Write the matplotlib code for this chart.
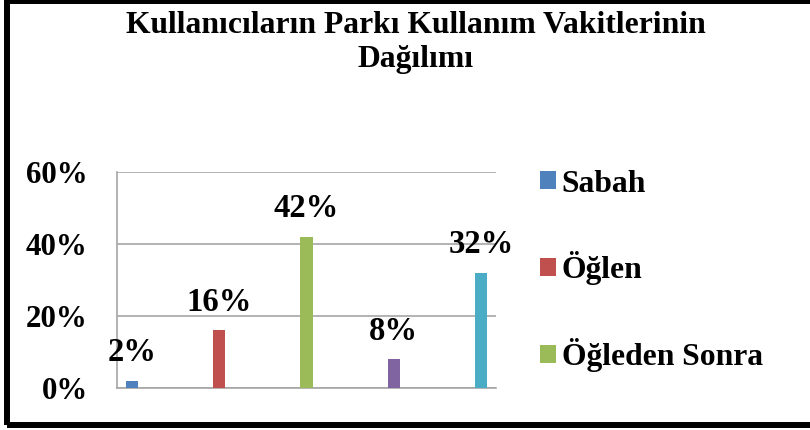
import matplotlib
matplotlib.use("Agg")
import matplotlib.pyplot as plt
from matplotlib.patches import Rectangle
from matplotlib.ticker import PercentFormatter

# Series (one bar each); the reference legend only has room for the first three
PERIODS = ["Sabah", "Öğlen", "Öğleden Sonra", "Akşam", "Gece"]
SHARES = [0.02, 0.16, 0.42, 0.08, 0.32]
COLORS = ["#4F81BD", "#C0504D", "#9BBB59", "#8064A2", "#4BACC6"]
YTICKS = [0.0, 0.2, 0.4, 0.6]
TITLE_LINES = ["Kullanıcıların Parkı Kullanım Vakitlerinin", "Dağılımı"]

plt.rcParams["font.family"] = ["Liberation Serif", "DejaVu Serif"]
plt.rcParams["font.weight"] = "bold"

GRID = "#A6A6A6"

fig = plt.figure(figsize=(8.1, 4.3), dpi=100)
ax = fig.add_axes([117 / 810, 1 - 388 / 430, 379 / 810, 216 / 430])

bars = []
for i, (name, val, col) in enumerate(zip(PERIODS, SHARES, COLORS)):
    b = ax.bar(i, val, width=0.14, color=col, label=name, zorder=3)
    bars.append(b)
    ax.annotate(f"{val * 100:.0f}%", (i, val), xytext=(0, 14),
                textcoords="offset points", ha="center", va="baseline",
                fontsize=23.5, fontweight="bold", zorder=4)

ax.set_xlim(-0.172, 4.172)
ax.set_ylim(0, 0.6)
ax.set_yticks(YTICKS)
ax.yaxis.set_major_formatter(PercentFormatter(xmax=1, decimals=0))
ax.set_xticks([])
ax.grid(axis="y", color=GRID, lw=1.2, zorder=1)
ax.tick_params(axis="y", length=0, pad=21, labelsize=22.3)
for lbl in ax.get_yticklabels():
    lbl.set_fontweight("bold")
for side in ("top", "right"):
    ax.spines[side].set_visible(False)
for side in ("left", "bottom"):
    ax.spines[side].set_color(GRID)
    ax.spines[side].set_linewidth(1.2)

fig.legend(handles=bars[:3], labels=PERIODS[:3], loc="upper left",
           bbox_to_anchor=(527 / 810, 1 - 157 / 430), frameon=False,
           prop={"weight": "bold", "size": 22.8},
           handlelength=0.5, handleheight=0.5, handletextpad=0.2,
           labelspacing=1.66, borderaxespad=0)

# two-line title, baselines placed separately
for line, base in zip(TITLE_LINES, (33, 67)):
    fig.text(416 / 810, 1 - base / 430, line, ha="center", va="baseline",
             fontsize=22.8, fontweight="bold")

# thick black frame around the chart (right side falls outside the image)
fig.patches.append(Rectangle((6.5 / 810, 1 - 425 / 430), 1.0, 424.5 / 430,
                             transform=fig.transFigure, fill=False,
                             edgecolor="black", lw=4.3, clip_on=False))

fig.savefig("out.png", dpi=100)
